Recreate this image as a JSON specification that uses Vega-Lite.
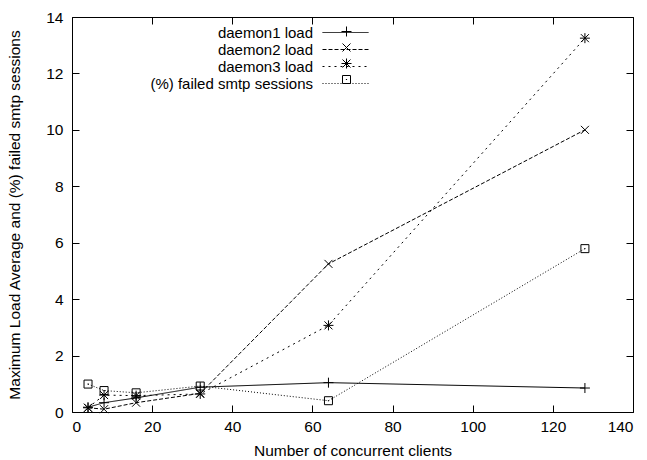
{
  "$schema": "https://vega.github.io/schema/vega-lite/v6.json",
  "width": 561,
  "height": 395,
  "autosize": {"type": "none"},
  "padding": {"left": 72, "top": 17, "right": 14, "bottom": 48},
  "config": {
    "font": "Liberation Sans",
    "view": {"stroke": "black", "strokeWidth": 1},
    "axis": {
      "domain": false,
      "grid": false,
      "tickColor": "black",
      "tickSize": -7,
      "tickWidth": 1,
      "labelColor": "black",
      "labelFontSize": 15.5,
      "titleColor": "black",
      "titleFontSize": 15.5,
      "titleFontWeight": "normal"
    }
  },
  "data": {
    "values": [
      {"clients": 4, "series": "daemon1 load", "value": 0.17},
      {"clients": 8, "series": "daemon1 load", "value": 0.33},
      {"clients": 16, "series": "daemon1 load", "value": 0.5},
      {"clients": 32, "series": "daemon1 load", "value": 0.88},
      {"clients": 64, "series": "daemon1 load", "value": 1.04},
      {"clients": 128, "series": "daemon1 load", "value": 0.85},
      {"clients": 4, "series": "daemon2 load", "value": 0.15},
      {"clients": 8, "series": "daemon2 load", "value": 0.1},
      {"clients": 16, "series": "daemon2 load", "value": 0.33},
      {"clients": 32, "series": "daemon2 load", "value": 0.66},
      {"clients": 64, "series": "daemon2 load", "value": 5.25},
      {"clients": 128, "series": "daemon2 load", "value": 10.0},
      {"clients": 4, "series": "daemon3 load", "value": 0.15},
      {"clients": 8, "series": "daemon3 load", "value": 0.6},
      {"clients": 16, "series": "daemon3 load", "value": 0.58},
      {"clients": 32, "series": "daemon3 load", "value": 0.64},
      {"clients": 64, "series": "daemon3 load", "value": 3.07},
      {"clients": 128, "series": "daemon3 load", "value": 13.25},
      {"clients": 4, "series": "(%) failed smtp sessions", "value": 0.99},
      {"clients": 8, "series": "(%) failed smtp sessions", "value": 0.76},
      {"clients": 16, "series": "(%) failed smtp sessions", "value": 0.68},
      {"clients": 32, "series": "(%) failed smtp sessions", "value": 0.92},
      {"clients": 64, "series": "(%) failed smtp sessions", "value": 0.4},
      {"clients": 128, "series": "(%) failed smtp sessions", "value": 5.79}
    ]
  },
  "resolve": {"axis": {"x": "independent", "y": "independent"}},
  "layer": [
    {
      "mark": {"type": "line", "color": "black", "strokeWidth": 1},
      "encoding": {
        "x": {"field": "clients", "type": "quantitative", "scale": {"domain": [0, 140], "nice": false},
          "axis": {"orient": "bottom", "values": [0,20,40,60,80,100,120,140], "title": "Number of concurrent clients", "labelPadding": 14, "titlePadding": 9}},
        "y": {"field": "value", "type": "quantitative", "scale": {"domain": [0, 14], "nice": false},
          "axis": {"orient": "left", "values": [0,2,4,6,8,10,12,14], "title": "Maximum Load Average and (%) failed smtp sessions", "labelPadding": 16, "titlePadding": 23}},
        "strokeDash": {
          "field": "series", "type": "nominal",
          "scale": {
            "domain": ["daemon1 load", "daemon2 load", "daemon3 load", "(%) failed smtp sessions"],
            "range": [[1, 0], [4, 2], [2, 4], [1, 2]]
          },
          "legend": {
            "orient": "none", "legendX": 265, "legendY": 7, "title": null, "padding": 0,
            "symbolType": "M-3,0H3", "symbolSize": 235, "symbolStrokeColor": "black", "symbolStrokeWidth": 1,
            "symbolFillColor": "transparent",
            "labelAlign": "right", "labelOffset": -41, "labelFontSize": 15, "labelColor": "black",
            "labelLimit": 400, "rowPadding": 0
          }
        }
      }
    },
    {
      "mark": {"type": "point", "color": "black", "filled": false, "strokeWidth": 1, "size": 100, "opacity": 1},
      "encoding": {
        "x": {"field": "clients", "type": "quantitative",
          "axis": {"orient": "top", "values": [0,20,40,60,80,100,120,140], "labels": false, "title": null}},
        "y": {"field": "value", "type": "quantitative",
          "axis": {"orient": "right", "values": [0,2,4,6,8,10,12,14], "labels": false, "title": null}},
        "shape": {
          "field": "series", "type": "nominal",
          "scale": {
            "domain": ["(%) failed smtp sessions", "daemon3 load", "daemon2 load", "daemon1 load"],
            "range": ["M-0.8,-0.8H0.8V0.8H-0.8ZM-0.12,0H0.12", "M-1,0H1M0,-1V1M-0.8,-0.8L0.8,0.8M-0.8,0.8L0.8,-0.8", "M-0.8,-0.8L0.8,0.8M-0.8,0.8L0.8,-0.8", "M-1,0H1M0,-1V1"]
          },
          "legend": {
            "orient": "none", "legendX": 267, "legendY": 7, "title": null, "padding": 0,
            "values": ["daemon1 load", "daemon2 load", "daemon3 load", "(%) failed smtp sessions"],
            "symbolStrokeColor": "black", "symbolStrokeWidth": 1, "symbolSize": 100,
            "labelOpacity": 0, "labelFontSize": 15, "labelLimit": 400, "rowPadding": 0
          }
        }
      }
    }
  ]
}
